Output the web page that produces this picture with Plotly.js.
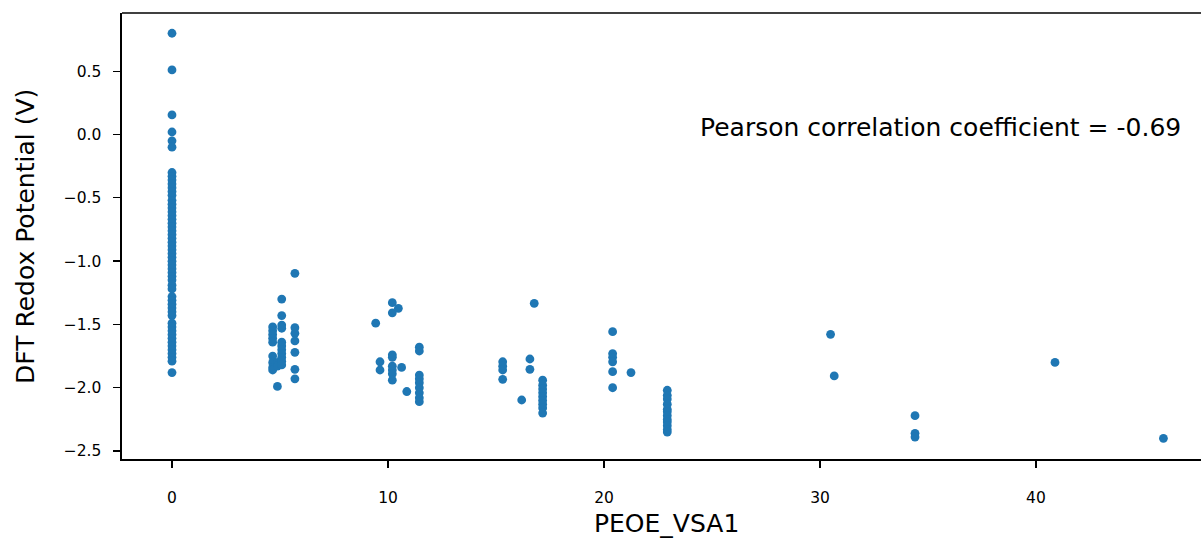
<!DOCTYPE html>
<html>
<head>
<meta charset="utf-8">
<script src="https://cdn.plot.ly/plotly-3.0.1.min.js"></script>
<style>html,body{margin:0;padding:0;background:#fff;}#chart{width:1201px;height:540px;}</style>
</head>
<body>
<div id="chart"></div>
<script>
// Each column of points: one PEOE_VSA1 value and the redox potentials read at it
const columnX = [0, 4.66, 4.88, 5.08, 5.69, 9.43, 9.63, 10.2, 10.48, 10.63, 10.87, 11.45,
  15.31, 16.19, 16.57, 16.77, 17.16, 20.4, 21.25, 22.93, 30.49, 30.66, 34.4, 40.88, 45.9];
const columnY = [
  [0.80, 0.51, 0.155, 0.02, -0.05, -0.10,
   -0.30, -0.33, -0.36, -0.39, -0.42, -0.45, -0.48, -0.52, -0.55, -0.58, -0.61, -0.64, -0.67, -0.70,
   -0.73, -0.76, -0.79, -0.82, -0.85, -0.88, -0.91, -0.94, -0.97, -1.00, -1.03, -1.06, -1.09, -1.12,
   -1.15, -1.19, -1.22,
   -1.28, -1.31, -1.34, -1.37, -1.40, -1.43,
   -1.49, -1.52, -1.55, -1.58, -1.61, -1.64, -1.67, -1.70, -1.73, -1.76, -1.79,
   -1.88],
  [-1.52, -1.55, -1.58, -1.61, -1.64, -1.75, -1.80, -1.84, -1.86],
  [-1.80, -1.83, -1.99],
  [-1.30, -1.43, -1.505, -1.53, -1.64, -1.67, -1.70, -1.73, -1.76, -1.79, -1.82],
  [-1.096, -1.526, -1.57, -1.63, -1.72, -1.855, -1.93],
  [-1.49],
  [-1.795, -1.86],
  [-1.328, -1.408, -1.74, -1.76, -1.83, -1.86, -1.89, -1.94],
  [-1.373],
  [-1.84],
  [-2.03],
  [-1.68, -1.71, -1.90, -1.93, -1.96, -2.00, -2.04, -2.08, -2.11],
  [-1.795, -1.83, -1.86, -1.934],
  [-2.097],
  [-1.773, -1.855],
  [-1.333],
  [-1.94, -1.98, -2.01, -2.04, -2.07, -2.10, -2.13, -2.16, -2.20],
  [-1.557, -1.73, -1.76, -1.795, -1.873, -2.0],
  [-1.88],
  [-2.02, -2.06, -2.09, -2.13, -2.17, -2.19, -2.22, -2.25, -2.27, -2.30, -2.33, -2.35],
  [-1.578],
  [-1.907],
  [-2.221, -2.36, -2.39],
  [-1.80],
  [-2.40]
];

const xTickVals = [0, 10, 20, 30, 40];
const xTickText = ['0', '10', '20', '30', '40'];
const yTickVals = [0.5, 0.0, -0.5, -1.0, -1.5, -2.0, -2.5];
const yTickText = ['0.5', '0.0', '\u22120.5', '\u22121.0', '\u22121.5', '\u22122.0', '\u22122.5'];

const xTitle = 'PEOE_VSA1';
const yTitle = 'DFT Redox Potential (V)';
const noteText = 'Pearson correlation coefficient = -0.69';

const xAll = [], yAll = [];
columnX.forEach(function (xv, i) {
  columnY[i].forEach(function (yv) { xAll.push(xv); yAll.push(yv); });
});

const font = 'DejaVu Sans, sans-serif';
const trace = {
  x: xAll, y: yAll, type: 'scatter', mode: 'markers',
  marker: {color: '#1f77b4', size: 8.8, line: {width: 0}},
  hoverinfo: 'x+y'
};
const layout = {
  width: 1201, height: 540,
  margin: {l: 122, r: 0, t: 13, b: 81},
  paper_bgcolor: '#fff', plot_bgcolor: '#fff',
  showlegend: false,
  font: {family: font, color: '#000'},
  xaxis: {
    range: [-2.315, 47.64], showgrid: false, zeroline: false,
    showline: true, linecolor: '#000', linewidth: 1.6,
    ticks: 'outside', ticklen: 7, tickwidth: 1.3, tickcolor: '#000',
    tickvals: xTickVals, ticktext: xTickText,
    tickfont: {family: font, size: 15.5, color: '#000'},
    ticklabelstandoff: 17
  },
  yaxis: {
    range: [-2.563, 0.96], showgrid: false, zeroline: false,
    showline: true, linecolor: '#000', linewidth: 1.6,
    ticks: 'outside', ticklen: 7, tickwidth: 1.3, tickcolor: '#000',
    tickvals: yTickVals, ticktext: yTickText,
    tickfont: {family: font, size: 15.5, color: '#000'},
    ticklabelstandoff: 9
  },
  shapes: [{type: 'line', xref: 'paper', yref: 'paper', x0: 0, x1: 1, y0: 1, y1: 1,
            line: {color: '#000', width: 1.6}}],
  annotations: [
    {text: noteText, xref: 'paper', yref: 'paper', x: 0.9833, y: 0.744,
     xanchor: 'right', yanchor: 'middle', showarrow: false,
     font: {family: font, size: 25, color: '#000'}},
    {text: xTitle, xref: 'paper', yref: 'paper', x: 0.505, y: -0.145,
     xanchor: 'center', yanchor: 'middle', showarrow: false,
     font: {family: font, size: 25, color: '#000'}},
    {text: yTitle, xref: 'paper', yref: 'paper', x: -0.0899, y: 0.5,
     xanchor: 'center', yanchor: 'middle', textangle: -90, showarrow: false,
     font: {family: font, size: 25, color: '#000'}}
  ]
};
Plotly.newPlot('chart', [trace], layout, {displayModeBar: false, staticPlot: true});
</script>
</body>
</html>
